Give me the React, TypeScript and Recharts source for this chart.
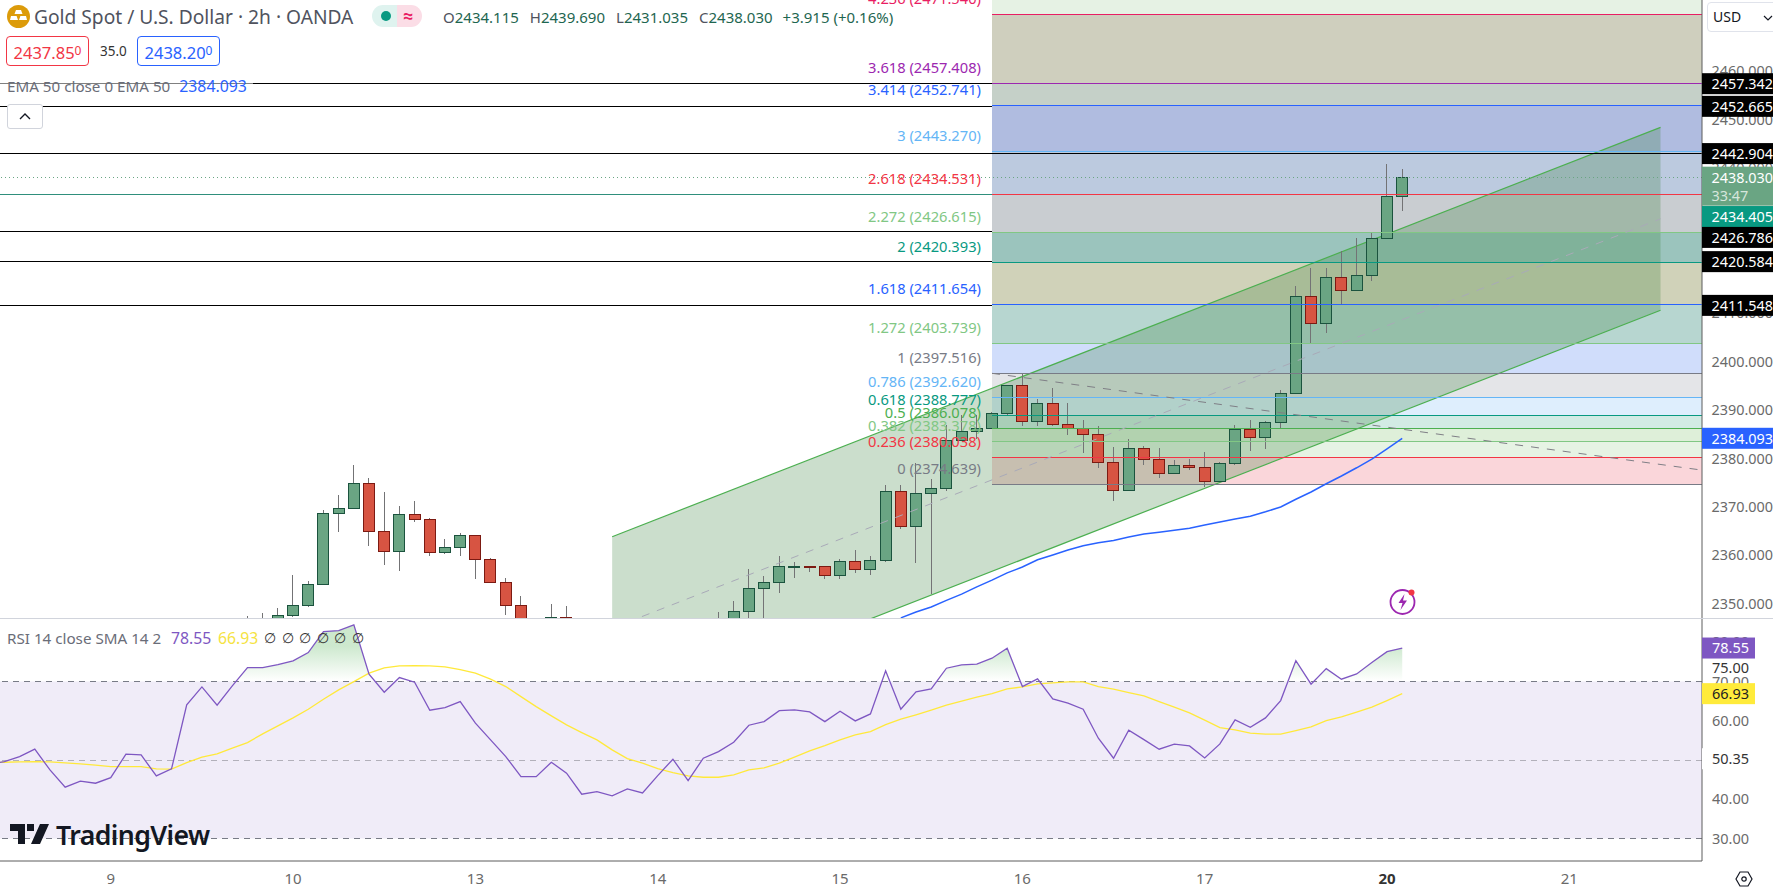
import React from 'react';
import {
  Area,
  Bar,
  ComposedChart,
  Line,
  ReferenceArea,
  ReferenceDot,
  ReferenceLine,
  XAxis,
  YAxis,
} from 'recharts';

const FONT = '"Noto Sans", Roboto, sans-serif';

// bar index range shown across the plot
const INDEX_MIN = 0.711;
const INDEX_MAX = 112.73;
const PRICE_MIN = 2346.97;
const PRICE_MAX = 2474.63;
const RSI_MIN = 24.3;
const RSI_MAX = 86.2;

const dayTicks = [8, 20, 32, 44, 56, 68, 80, 92, 104];
const dayLabels = ['9', '10', '13', '14', '15', '16', '17', '20', '21'];

const priceTicks = [2350, 2360, 2370, 2380, 2390, 2400, 2410, 2420, 2430, 2440, 2450, 2460];
const rsiTicks = [30, 40, 60, 70, 75, 80];

const candleFirst = 17;
const candleOpen = [
  2344, 2345, 2345, 2347.53, 2349.51, 2353.85, 2368.6, 2369.55, 2374.79, 2364.88, 2360.67, 2368.39, 2367.36,
  2360.46, 2361.57, 2364.05, 2359.09, 2354.34, 2349.59, 2343, 2346, 2347.11, 2344, 2343, 2342, 2341, 2340, 2339,
  2340, 2342, 2343, 2345, 2345.5, 2348.27, 2353.02, 2354.26, 2357.6, 2357.65, 2357.65, 2355.71, 2358.68, 2357.03,
  2358.81, 2373.14, 2365.83, 2372.73, 2373.76, 2383.68, 2385.54, 2386.07, 2389.17, 2395.04, 2387.52, 2391.32,
  2386.98, 2386.16, 2384.83, 2379.05, 2373.27, 2382.02, 2379.75, 2376.86, 2378.51, 2378.1, 2375.13, 2378.93,
  2385.95, 2384.3, 2387.39, 2393.39, 2413.42, 2407.85, 2417.35, 2414.66, 2417.76, 2425.4, 2434.115,
];
const candleHigh = [
  2347.38, 2348.07, 2348.97, 2355.85, 2354.61, 2369.28, 2372.38, 2378.57, 2375.89, 2373, 2370.11, 2371.14, 2367.63,
  2363.29, 2364.53, 2364.2, 2359.4, 2355.17, 2351.51, 2345, 2349.86, 2349.45, 2345, 2344, 2343, 2342, 2341, 2340,
  2342, 2344, 2345, 2348.21, 2350.48, 2357.09, 2355.65, 2359.78, 2358.54, 2357.8, 2357.7, 2359.16, 2361.02, 2359.78,
  2374.44, 2374.44, 2378.99, 2375.68, 2386.84, 2388.9, 2388.9, 2389.46, 2395.1, 2397.31, 2392.15, 2394.42, 2391.32,
  2387.87, 2386.63, 2382.29, 2383.95, 2382.5, 2382.09, 2379.61, 2379.81, 2381.26, 2379.13, 2386.84, 2387.87, 2387.6,
  2394.07, 2415.55, 2419.27, 2419.27, 2422.78, 2425.47, 2426.71, 2440.75, 2439.69,
];
const candleLow = [
  2342, 2343, 2344, 2347.24, 2349.3, 2353.7, 2364.8, 2369.5, 2361.84, 2357.92, 2356.68, 2366.86, 2359.78, 2360.19,
  2359.78, 2355.03, 2354.3, 2347.59, 2342, 2341, 2344, 2345, 2342, 2341, 2340, 2339, 2338, 2338, 2339, 2341, 2342,
  2344, 2344.5, 2346, 2346, 2352.13, 2355.23, 2356.47, 2355.09, 2355.09, 2356.27, 2355.85, 2358.54, 2365.42, 2358.39,
  2351.93, 2373.27, 2383.68, 2383.88, 2386, 2388.9, 2386.69, 2386.63, 2386.69, 2384.77, 2381.12, 2377.96, 2371.2,
  2373.2, 2378.57, 2375.95, 2376.8, 2377.6, 2374.09, 2375.1, 2378.57, 2381.53, 2381.88, 2385.95, 2393.3, 2403.84,
  2405.9, 2411.63, 2414.6, 2416.65, 2425.3, 2431.035,
];
const candleClose = [
  2345, 2346, 2347.53, 2349.59, 2353.93, 2368.6, 2369.63, 2374.79, 2364.8, 2360.67, 2368.39, 2367.28, 2360.46,
  2361.57, 2364.05, 2359.09, 2354.34, 2349.59, 2345, 2342, 2347.11, 2346, 2343, 2342, 2341, 2340, 2339, 2340, 2342,
  2343, 2344, 2346, 2348.35, 2353.11, 2354.34, 2357.65, 2357.71, 2357.5, 2355.71, 2358.68, 2357.03, 2358.89, 2373.14,
  2365.83, 2372.73, 2373.76, 2383.68, 2385.54, 2386.07, 2389.25, 2395.04, 2387.52, 2391.32, 2386.98, 2386.07,
  2384.83, 2379.05, 2373.27, 2382.02, 2379.75, 2376.86, 2378.51, 2378.1, 2375.13, 2378.93, 2385.95, 2384.3, 2387.39,
  2393.39, 2413.42, 2407.85, 2417.35, 2414.66, 2417.76, 2425.4, 2434.08, 2438.03,
];

const emaFirst = 60;
const emaValues = [
  2347, 2348.2, 2349.25, 2350.6, 2351.9, 2353.4, 2354.8, 2356.3, 2357.5, 2359, 2360, 2361, 2361.9, 2362.5, 2363,
  2363.7, 2364.3, 2364.7, 2365.1, 2365.5, 2366.2, 2366.8, 2367.4, 2368, 2368.9, 2369.9, 2371.5, 2373, 2374.7, 2376.3,
  2378, 2379.8, 2381.9, 2384.09,
];

const rsiValues = [
  48.9, 49.62, 50.89, 52.78, 47.5, 43.1, 44.62, 44.11, 45.54, 51.5, 51.32, 45.97, 47.76, 64.06, 68.65, 63.99, 68.9,
  73.57, 73.57, 74.33, 75.27, 77.39, 82.74, 82.99, 84.45, 71.89, 67.3, 71.02, 69.85, 62.71, 63.38, 64.9, 59.4, 55.15,
  50.89, 45.8, 45.8, 49.46, 46.66, 41.31, 41.97, 40.88, 42.66, 41.64, 46.05, 50.23, 44.78, 50.48, 52.17, 54.56, 58.89,
  59.81, 62.61, 62.79, 62.28, 59.81, 62.46, 59.99, 61.77, 72.73, 62.97, 67.38, 68.14, 73.41, 74.25, 74.43, 75.96,
  78.51, 68.73, 70.69, 65.59, 64.5, 62.97, 55.58, 50.48, 57.62, 55.22, 52.78, 54.05, 53.62, 50.56, 54.13, 60.24, 58.38,
  60.75, 65.16, 75.35, 69.34, 73.31, 70.61, 71.96, 74.84, 77.64, 78.55,
];
const rsiSmaValues = [
  49.4, 49.46, 49.54, 49.62, 49.54, 49.29, 49.03, 48.7, 48.34, 48.34, 48.34, 47.76, 47.68, 49.36, 50.74, 51.58, 53.03,
  54.46, 56.68, 58.71, 60.75, 62.97, 65.52, 67.89, 70, 72.14, 73.49, 74, 74.08, 74, 73.75, 73.06, 72.14, 70.61, 68.73,
  66.18, 63.63, 61.26, 58.97, 57.01, 55.15, 52.6, 50.38, 49.21, 47.83, 46.82, 45.97, 45.64, 45.64, 46.23, 47.5, 48.01,
  49.21, 50.74, 52.34, 53.69, 55.15, 56.42, 57.26, 59.04, 60.42, 61.52, 62.71, 63.99, 65, 66.03, 66.94, 68.14, 68.65,
  69.41, 69.67, 69.92, 69.92, 68.73, 68.06, 67.2, 66.36, 64.9, 63.48, 62.03, 60.17, 58.28, 57.69, 56.85, 56.6, 56.6,
  57.52, 58.46, 60.06, 60.99, 62.2, 63.48, 65.16, 66.93,
];

// fib retracement, low to high
const fibRatios = ['0', '0.236', '0.382', '0.5', '0.618', '0.786', '1', '1.272', '1.618', '2', '2.272', '2.618', '3', '3.414', '3.618', '4.236'];
const fibPrices = [
  2374.639, 2380.038, 2383.378, 2386.078, 2388.777, 2392.62, 2397.516, 2403.739, 2411.654, 2420.393, 2426.615,
  2434.531, 2443.27, 2452.741, 2457.408, 2471.54,
];
const fibLineColors = [
  '#787b86', '#f23645', '#81c784', '#4caf50', '#089981', '#64b5f6', '#787b86', '#81c784', '#2962ff', '#089981',
  '#81c784', '#f23645', '#64b5f6', '#2962ff', '#9c27b0', '#e91e63',
];
const fibBandColors = [
  '#fad6da', '#e6f3e4', '#deefd9', '#d2ebe4', '#deeefd', '#e4e5e8', '#d0ddfb', '#b7d6d0', '#d0d2b9', '#9bc4bd',
  '#c9cdd1', '#bccadf', '#b0bce0', '#c5d0c8', '#cfcfbe', '#e6f2e4',
];
const FIB_START = 66;

// horizontal levels: the first two stay visible next to their fib line, the rest sit under it
const fullLevels = [2457.342, 2442.904];
const leftLevels = [2452.665, 2426.786, 2420.584, 2411.548];

// parallel channel end points
const channelIndex = [41, 110];
const channelUpper = [2363.76, 2448.33];
const channelLower = [2325.96, 2410.53];
const channelMid = [2344.86, 2429.43];

// fib trend line
const trendIndex = [66, 113];
const trendValues = [2397.516, 2377.4];

const rows: any[] = [];
for (let i = 0; i <= 113; i++) {
  const c = i - candleFirst;
  const e = i - emaFirst;
  const ch = channelIndex.indexOf(i);
  const t = trendIndex.indexOf(i);
  rows.push({
    i,
    open: candleOpen[c],
    high: candleHigh[c],
    low: candleLow[c],
    close: candleClose[c],
    ema: emaValues[e] ?? null,
    upper: ch >= 0 ? channelUpper[ch] : null,
    lower: ch >= 0 ? channelLower[ch] : null,
    mid: ch >= 0 ? channelMid[ch] : null,
    trend: t >= 0 ? trendValues[t] : null,
  });
}
const rsiRows = rsiValues.map((rsi, i) => ({ i, rsi, sma: rsiSmaValues[i] }));

function Candle(props: any) {
  const { x, y, width, height, payload } = props;
  if (payload.high === undefined) return null;
  const { open, high, low, close } = payload;
  const up = close >= open;
  const perUnit = height / (high - low);
  const top = y + (high - Math.max(open, close)) * perUnit;
  const bottom = y + (high - Math.min(open, close)) * perUnit;
  const cx = x + width / 2;
  return (
    <g shapeRendering="crispEdges">
      <line x1={cx} x2={cx} y1={y} y2={y + height} stroke="#737375" strokeWidth={1} />
      <rect
        x={x}
        y={top}
        width={width}
        height={Math.max(bottom - top, 1)}
        fill={up ? '#6aa583' : '#d75442'}
        stroke={up ? '#1b533e' : '#7c1a12'}
        strokeWidth={1}
      />
    </g>
  );
}

const priceTags: Record<string, { text: string; bg: string; dy: number }> = {
  '2457.342': { text: '2457.342', bg: '#000', dy: 0 },
  '2452.665': { text: '2452.665', bg: '#000', dy: 0 },
  '2442.904': { text: '2442.904', bg: '#000', dy: 0 },
  '2434.405': { text: '2434.405', bg: '#089981', dy: 21.8 },
  '2426.786': { text: '2426.786', bg: '#000', dy: 5.8 },
  '2420.584': { text: '2420.584', bg: '#000', dy: 0 },
  '2411.548': { text: '2411.548', bg: '#000', dy: 0 },
  '2384.093': { text: '2384.093', bg: '#2962ff', dy: 0 },
};
const LAST_PRICE = 2438.03;
const mainAxisTicks = [...priceTicks, LAST_PRICE, ...Object.keys(priceTags).map(Number)];

function PriceTick(props: any) {
  const { x, y, payload } = props;
  const value = payload.value;
  if (value === LAST_PRICE) {
    return (
      <g fontFamily={FONT} fontSize={14.4}>
        <rect x={x} y={y - 10.5} width={71} height={39} fill="#6aa583" />
        <text x={x + 9.5} y={y + 5.5} fill="#fff">2438.030</text>
        <text x={x + 9.5} y={y + 23.5} fill="#d6e6dc">33:47</text>
      </g>
    );
  }
  const tag = priceTags[value.toFixed(3)];
  if (tag) {
    return (
      <g fontFamily={FONT} fontSize={14.4}>
        <rect x={x} y={y + tag.dy - 10.5} width={71} height={21} fill={tag.bg} />
        <text x={x + 9.5} y={y + tag.dy + 5.5} fill="#fff">{tag.text}</text>
      </g>
    );
  }
  return (
    <text x={x + 9.5} y={y + 5.5} fontFamily={FONT} fontSize={14.4} fill="#6a6a6a">
      {value.toFixed(3)}
    </text>
  );
}

const rsiTags: Record<string, { text: string; bg: string; fg: string; width: number; height: number }> = {
  '78.55': { text: '78.55', bg: '#7e57c2', fg: '#fff', width: 53, height: 21 },
  '66.93': { text: '66.93', bg: '#ffeb3b', fg: '#222', width: 53, height: 21 },
  '50.35': { text: '50.35', bg: '#fff', fg: '#333', width: 53, height: 21 },
};
const rsiAxisTicks = [...rsiTicks, 78.55, 66.93, 50.35];

function RsiTick(props: any) {
  const { x, y, payload } = props;
  const value = payload.value;
  const tag = rsiTags[value.toFixed(2)];
  if (tag) {
    return (
      <g fontFamily={FONT} fontSize={14.5}>
        <rect x={x} y={y - tag.height / 2} width={tag.width} height={tag.height} fill={tag.bg} />
        <text x={x + 10} y={y + 5} fill={tag.fg}>{tag.text}</text>
      </g>
    );
  }
  const dy = value === 75 ? 6 : 0;
  return (
    <text x={x + 10} y={y + 5 + dy} fontFamily={FONT} fontSize={14.5} fill={value === 75 ? '#333' : '#6a6a6a'}>
      {value.toFixed(2)}
    </text>
  );
}

function DayTick(props: any) {
  const { x, y, payload } = props;
  const label = dayLabels[dayTicks.indexOf(payload.value)];
  const bold = label === '20';
  return (
    <text
      x={x}
      y={y + 23}
      textAnchor="middle"
      fontFamily={FONT}
      fontSize={15}
      fontWeight={bold ? 700 : 400}
      fill={bold ? '#333' : '#6a6a6a'}
    >
      {label}
    </text>
  );
}

function PriceChart() {
  return (
    <ComposedChart width={1773} height={618} data={rows} margin={{ top: 0, right: 0, bottom: 0, left: 0 }}>
      <XAxis dataKey="i" type="number" domain={[INDEX_MIN, INDEX_MAX]} allowDataOverflow hide />
      <YAxis
        orientation="right"
        width={71}
        domain={[PRICE_MIN, PRICE_MAX]}
        allowDataOverflow
        ticks={mainAxisTicks}
        interval={0}
        tick={<PriceTick />}
        tickLine={false}
        tickMargin={0}
        tickSize={0}
        axisLine={{ stroke: '#5d5d5d' }}
      />
      {fibBandColors.map((color, k) => (
        <ReferenceArea
          key={`band${k}`}
          x1={FIB_START}
          x2={INDEX_MAX}
          y1={fibPrices[k]}
          y2={fibPrices[k + 1] ?? PRICE_MAX}
          fill={color}
          fillOpacity={1}
          stroke="none"
        />
      ))}
      {fullLevels.map((level) => (
        <ReferenceLine key={level} y={level} stroke="#000" strokeWidth={1} shapeRendering="crispEdges" />
      ))}
      {leftLevels.map((level) => (
        <ReferenceLine
          key={level}
          segment={[
            { x: INDEX_MIN, y: level },
            { x: FIB_START, y: level },
          ]}
          stroke="#000"
          strokeWidth={1}
          shapeRendering="crispEdges"
        />
      ))}
      <ReferenceLine y={2434.405} stroke="#2f8f7c" strokeWidth={1} shapeRendering="crispEdges" />
      <ReferenceLine y={LAST_PRICE} stroke="#6aa583" strokeWidth={1} strokeDasharray="1 3" shapeRendering="crispEdges" />
      {fibPrices.map((price, k) => (
        <ReferenceLine
          key={`fib${k}`}
          segment={[
            { x: FIB_START, y: price },
            { x: INDEX_MAX, y: price },
          ]}
          stroke={fibLineColors[k]}
          strokeWidth={1}
          shapeRendering="crispEdges"
        />
      ))}
      {fibPrices.map((price, k) => (
        <ReferenceDot
          key={`fibLabel${k}`}
          x={FIB_START}
          y={price}
          shape={(p: any) => (
            <text
              x={p.cx - 11}
              y={p.cy - 10.5}
              textAnchor="end"
              fontFamily={FONT}
              fontSize={14.7}
              fill={fibLineColors[k]}
            >
              {`${fibRatios[k]} (${price.toFixed(3)})`}
            </text>
          )}
        />
      ))}
      <Area
        dataKey={(d: any) => (d.upper === null ? null : [d.lower, d.upper])}
        type="linear"
        connectNulls
        stroke="#4caf50"
        strokeWidth={1.2}
        fill="#2e7d32"
        fillOpacity={0.25}
        dot={false}
        activeDot={false}
        isAnimationActive={false}
      />
      <Line
        dataKey="mid"
        type="linear"
        connectNulls
        stroke="#a9aab8"
        strokeWidth={1}
        strokeDasharray="8 8"
        dot={false}
        activeDot={false}
        isAnimationActive={false}
      />
      <Line
        dataKey="trend"
        type="linear"
        connectNulls
        stroke="#7f7f86"
        strokeWidth={1}
        strokeDasharray="8 8"
        dot={false}
        activeDot={false}
        isAnimationActive={false}
      />
      <Line
        dataKey="ema"
        type="linear"
        connectNulls
        stroke="#2962ff"
        strokeWidth={1.5}
        dot={false}
        activeDot={false}
        isAnimationActive={false}
      />
      <Bar
        dataKey={(d: any) => (d.high === undefined ? null : [d.low, d.high])}
        barSize={11}
        shape={<Candle />}
        isAnimationActive={false}
      />
    </ComposedChart>
  );
}

function RsiChart() {
  return (
    <ComposedChart width={1773} height={273} data={rsiRows} margin={{ top: 0, right: 0, bottom: 0, left: 0 }}>
      <defs>
        <linearGradient id="overbought" gradientUnits="userSpaceOnUse" x1="0" x2="0" y1="28" y2="63">
          <stop offset="0" stopColor="#4caf50" stopOpacity={0.28} />
          <stop offset="1" stopColor="#4caf50" stopOpacity={0} />
        </linearGradient>
      </defs>
      <XAxis
        dataKey="i"
        type="number"
        domain={[INDEX_MIN, INDEX_MAX]}
        allowDataOverflow
        ticks={dayTicks}
        interval={0}
        height={30}
        tick={<DayTick />}
        tickLine={false}
        tickMargin={0}
        tickSize={0}
        axisLine={{ stroke: '#5d5d5d' }}
      />
      <YAxis
        orientation="right"
        width={71}
        domain={[RSI_MIN, RSI_MAX]}
        allowDataOverflow
        ticks={rsiAxisTicks}
        interval={0}
        tick={<RsiTick />}
        tickLine={false}
        tickMargin={0}
        tickSize={0}
        axisLine={{ stroke: '#5d5d5d' }}
      />
      <ReferenceArea y1={30} y2={70} x1={INDEX_MIN} x2={INDEX_MAX} fill="#f0ecf8" fillOpacity={1} stroke="none" />
      <ReferenceLine y={70} stroke="#787b86" strokeDasharray="6 5" shapeRendering="crispEdges" />
      <ReferenceLine y={50} stroke="#b2b0ba" strokeDasharray="6 5" shapeRendering="crispEdges" />
      <ReferenceLine y={30} stroke="#787b86" strokeDasharray="6 5" shapeRendering="crispEdges" />
      <Area
        dataKey="rsi"
        type="linear"
        baseValue={70}
        stroke="none"
        fill="url(#overbought)"
        fillOpacity={1}
        dot={false}
        activeDot={false}
        isAnimationActive={false}
      />
      <Line
        dataKey="sma"
        type="linear"
        stroke="#ffe93b"
        strokeWidth={1.3}
        dot={false}
        activeDot={false}
        isAnimationActive={false}
      />
      <Line
        dataKey="rsi"
        type="linear"
        stroke="#7e57c2"
        strokeWidth={1.3}
        dot={false}
        activeDot={false}
        isAnimationActive={false}
      />
    </ComposedChart>
  );
}

const abs = (left: number, top: number, extra: React.CSSProperties = {}): React.CSSProperties => ({
  position: 'absolute',
  left,
  top,
  whiteSpace: 'nowrap',
  ...extra,
});

function Quote({ left, color, price, tail }: { left: number; color: string; price: string; tail: string }) {
  return (
    <div
      style={abs(left, 36, {
        width: 83,
        height: 30,
        boxSizing: 'border-box',
        border: `1px solid ${color}`,
        borderRadius: 4,
        color,
        fontSize: 16.5,
        lineHeight: '28px',
        textAlign: 'center',
        background: '#fff',
      })}
    >
      {price}
      <span style={{ fontSize: 12, verticalAlign: 4 }}>{tail}</span>
    </div>
  );
}

function Overlay() {
  const ohlcColor = '#1e6650';
  return (
    <>
      <svg style={abs(7, 5)} width={23} height={23} viewBox="0 0 23 23">
        <circle cx={11.5} cy={11.5} r={11.5} fill="#dc9b0a" />
        <path d="M9 5h5l1.5 4h-8zM4 11h5.6l1.4 4H3zM13.4 11H19l1 4h-8z" fill="#fff" />
      </svg>
      <div style={abs(34, 4, { fontSize: 19.2, lineHeight: '26px', color: '#50535e' })}>
        Gold Spot / U.S. Dollar · 2h · OANDA
      </div>
      <div style={abs(372, 5, { width: 25, height: 22, background: '#dff3ef', borderRadius: '11px 0 0 11px' })} />
      <div style={abs(397, 5, { width: 25, height: 22, background: '#fbdde6', borderRadius: '0 11px 11px 0' })} />
      <div style={abs(381, 11, { width: 10, height: 10, background: '#089981', borderRadius: 5 })} />
      <div style={abs(403, 2, { fontSize: 18, lineHeight: '26px', fontWeight: 700, color: '#e91e63' })}>≈</div>
      <div style={abs(443, 6, { fontSize: 15, lineHeight: '22px', color: ohlcColor })}>
        <span style={{ color: '#50535e' }}>O</span>2434.115
        <span style={{ color: '#50535e', marginLeft: 11 }}>H</span>2439.690
        <span style={{ color: '#50535e', marginLeft: 11 }}>L</span>2431.035
        <span style={{ color: '#50535e', marginLeft: 11 }}>C</span>2438.030
        <span style={{ marginLeft: 10 }}>+3.915 (+0.16%)</span>
      </div>
      <Quote left={6} color="#f23645" price="2437.85" tail="0" />
      <div style={abs(100, 40, { fontSize: 13.5, lineHeight: '22px', color: '#333' })}>35.0</div>
      <Quote left={137} color="#2962ff" price="2438.20" tail="0" />
      <div
        style={abs(0, 76, {
          width: 246,
          paddingLeft: 7,
          fontSize: 15.2,
          lineHeight: '21px',
          color: '#6a6d78',
          background: 'rgba(255,255,255,0.5)',
        })}
      >
        EMA 50 close 0 EMA 50<span style={{ color: '#2962ff', marginLeft: 9, fontSize: 15.8 }}>2384.093</span>
      </div>
      <div
        style={abs(7, 104, {
          width: 36,
          height: 25,
          boxSizing: 'border-box',
          border: '1px solid #d1d4dc',
          borderRadius: 3,
          background: '#fff',
        })}
      >
        <svg width={34} height={23} viewBox="0 0 34 23">
          <path d="M12 14l5-5 5 5" fill="none" stroke="#131722" strokeWidth={1.4} />
        </svg>
      </div>
      <div
        style={abs(1707, 2, {
          width: 70,
          height: 30,
          boxSizing: 'border-box',
          border: '1px solid #e0e3eb',
          borderRadius: 4,
          paddingLeft: 5,
          fontSize: 14,
          lineHeight: '28px',
          color: '#131722',
          background: '#fff',
        })}
      >
        USD
        <svg style={{ position: 'absolute', left: 55, top: 11 }} width={10} height={8} viewBox="0 0 10 8">
          <path d="M1 2l4 4 4-4" fill="none" stroke="#131722" strokeWidth={1.2} />
        </svg>
      </div>
      <svg style={abs(1388, 586)} width={30} height={32} viewBox="0 0 30 32">
        <circle cx={14.5} cy={16} r={12} fill="#fff" stroke="#9c27b0" strokeWidth={1.8} />
        <path d="M16.5 8l-6 9h4l-2 7 6.5-9.5h-4z" fill="#9c27b0" />
        <circle cx={23.5} cy={6.5} r={3} fill="#f23645" />
      </svg>
      <svg style={abs(1735, 870)} width={18} height={18} viewBox="0 0 18 18">
        <path d="M5 2h8l4 7-4 7H5L1 9z" fill="none" stroke="#131722" strokeWidth={1.2} />
        <circle cx={9} cy={9} r={2.2} fill="none" stroke="#131722" strokeWidth={1.2} />
      </svg>
      <div style={abs(7, 628, { fontSize: 15.2, lineHeight: '21px', color: '#6a6d78' })}>
        RSI 14 close SMA 14 2
        <span style={{ color: '#7e57c2', position: 'absolute', left: 164, fontSize: 15.8 }}>78.55</span>
        <span style={{ color: '#f5e342', position: 'absolute', left: 211, fontSize: 15.8 }}>66.93</span>
        {[257, 275, 292, 310, 327, 345].map((left) => (
          <span key={left} style={{ color: '#333', position: 'absolute', left, fontFamily: '"DejaVu Sans"', fontSize: 14 }}>
            ∅
          </span>
        ))}
      </div>
      <svg style={abs(10, 822)} width={40} height={24} viewBox="0 0 40 24">
        <path d="M0 2h15v20H8V9H0zM30 2h9l-9 20h-9zM17 2h7v7h-7z" fill="#131722" />
      </svg>
      <div
        style={abs(56, 819, {
          fontSize: 26.7,
          lineHeight: '32px',
          fontWeight: 600,
          color: '#131722',
          letterSpacing: -0.6,
        })}
      >
        TradingView
      </div>
    </>
  );
}

export default function App() {
  return (
    <div
      style={{
        position: 'absolute',
        left: 0,
        top: 0,
        width: 1773,
        height: 891,
        overflow: 'hidden',
        background: '#fff',
        fontFamily: FONT,
      }}
    >
      <div style={abs(0, 0)}>
        <PriceChart />
      </div>
      <div style={abs(0, 618)}>
        <RsiChart />
      </div>
      <div style={abs(0, 618, { width: 1773, height: 1, background: '#d1d4dc' })} />
      <Overlay />
    </div>
  );
}
